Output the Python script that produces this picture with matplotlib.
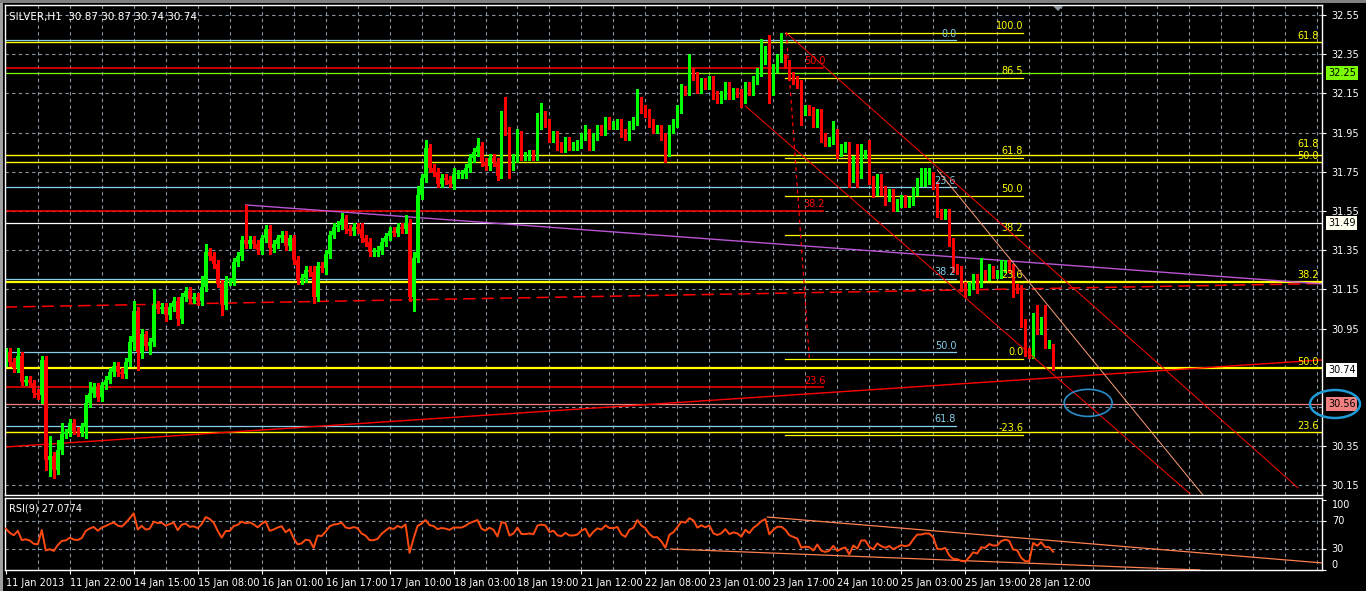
import numpy as np
import matplotlib
matplotlib.use("Agg")
import matplotlib.pyplot as plt
from matplotlib.patches import Ellipse, Polygon, Rectangle

# ---- price data (SILVER H1), one bar per hour ----
first_open = 30.78
closes = [
    30.83, 30.78, 30.75, 30.81, 30.68, 30.69, 30.67, 30.62, 30.61, 30.79,
    30.28, 30.30, 30.23, 30.33, 30.41, 30.42, 30.47, 30.43, 30.42, 30.45,
    30.57, 30.62, 30.65, 30.60, 30.66, 30.69, 30.73, 30.76, 30.73, 30.72,
    30.78, 30.88, 31.04, 30.83, 30.92, 30.86, 30.88, 31.07, 31.05, 31.06,
    31.02, 31.06, 31.09, 31.00, 31.11, 31.14, 31.10, 31.11, 31.09, 31.16,
    31.34, 31.32, 31.28, 31.18, 31.07, 31.19, 31.19, 31.29, 31.32, 31.40,
    31.38, 31.40, 31.38, 31.35, 31.41, 31.46, 31.36, 31.38, 31.41, 31.43,
    31.37, 31.41, 31.30, 31.20, 31.21, 31.25, 31.24, 31.11, 31.27, 31.26,
    31.33, 31.43, 31.47, 31.48, 31.51, 31.46, 31.45, 31.47, 31.46, 31.41,
    31.39, 31.34, 31.34, 31.35, 31.39, 31.42, 31.45, 31.44, 31.47, 31.46,
    31.49, 31.11, 31.31, 31.63, 31.72, 31.87, 31.77, 31.75, 31.69, 31.72,
    31.71, 31.69, 31.74, 31.74, 31.74, 31.77, 31.82, 31.85, 31.88, 31.80,
    31.78, 31.82, 31.80, 31.73, 31.97, 31.96, 31.78, 31.82, 31.94, 31.83,
    31.83, 31.84, 31.83, 31.99, 32.01, 32.00, 31.92, 31.94, 31.88, 31.87,
    31.91, 31.88, 31.88, 31.89, 31.93, 31.95, 31.88, 31.93, 31.97, 31.96,
    32.01, 31.99, 31.99, 32.00, 31.95, 31.93, 31.99, 32.01, 32.11, 32.07,
    32.05, 32.00, 31.97, 31.97, 31.93, 31.85, 31.97, 32.00, 32.07, 32.17,
    32.16, 32.26, 32.24, 32.17, 32.21, 32.19, 32.22, 32.14, 32.12, 32.14,
    32.19, 32.14, 32.16, 32.15, 32.12, 32.19, 32.16, 32.22, 32.26, 32.32,
    32.36, 32.21, 32.28, 32.33, 32.33, 32.30, 32.24, 32.22, 32.20, 32.06,
    32.07, 32.06, 32.00, 32.05, 31.93, 31.90, 31.91, 31.95, 31.85, 31.87,
    31.88, 31.72, 31.81, 31.74, 31.84, 31.84, 31.71, 31.65, 31.72, 31.66,
    31.62, 31.64, 31.57, 31.59, 31.61, 31.59, 31.60, 31.65, 31.70, 31.70,
    31.71, 31.71, 31.68, 31.54, 31.53, 31.54, 31.39, 31.26, 31.25, 31.17,
    31.14, 31.17, 31.21, 31.18, 31.23, 31.22, 31.25, 31.23, 31.23, 31.26,
    31.27, 31.26, 31.16, 31.15, 30.98, 30.83, 30.82, 31.01, 30.94, 30.99,
    30.87, 30.87, 30.74,
]
# wick lengths above / below the candle body
up_wick = [
    0.02, 0.02, 0.02, 0.04, 0.02, 0.02, 0.02, 0.02, 0.02, 0.02,
    0.02, 0.10, 0.02, 0.05, 0.06, 0.02, 0.02, 0.02, 0.02, 0.02,
    0.04, 0.06, 0.02, 0.02, 0.02, 0.02, 0.02, 0.02, 0.02, 0.02,
    0.02, 0.03, 0.05, 0.02, 0.03, 0.02, 0.02, 0.08, 0.02, 0.02,
    0.02, 0.02, 0.02, 0.02, 0.02, 0.02, 0.02, 0.02, 0.02, 0.06,
    0.04, 0.02, 0.02, 0.02, 0.02, 0.03, 0.02, 0.02, 0.02, 0.02,
    0.18, 0.02, 0.02, 0.02, 0.02, 0.02, 0.02, 0.02, 0.02, 0.02,
    0.02, 0.02, 0.02, 0.02, 0.02, 0.02, 0.02, 0.03, 0.02, 0.02,
    0.02, 0.02, 0.02, 0.02, 0.03, 0.02, 0.02, 0.02, 0.02, 0.03,
    0.02, 0.02, 0.02, 0.02, 0.02, 0.02, 0.02, 0.02, 0.02, 0.02,
    0.04, 0.02, 0.03, 0.05, 0.02, 0.04, 0.02, 0.02, 0.02, 0.02,
    0.02, 0.02, 0.03, 0.02, 0.02, 0.02, 0.02, 0.02, 0.04, 0.02,
    0.02, 0.02, 0.02, 0.02, 0.09, 0.16, 0.02, 0.02, 0.03, 0.02,
    0.02, 0.02, 0.02, 0.06, 0.09, 0.05, 0.02, 0.02, 0.02, 0.02,
    0.02, 0.02, 0.02, 0.02, 0.02, 0.04, 0.02, 0.02, 0.02, 0.02,
    0.02, 0.02, 0.02, 0.02, 0.02, 0.02, 0.02, 0.02, 0.06, 0.02,
    0.02, 0.02, 0.02, 0.02, 0.02, 0.02, 0.02, 0.02, 0.02, 0.03,
    0.02, 0.09, 0.02, 0.02, 0.02, 0.02, 0.02, 0.02, 0.02, 0.02,
    0.02, 0.02, 0.02, 0.02, 0.02, 0.02, 0.02, 0.02, 0.02, 0.11,
    0.03, 0.09, 0.02, 0.02, 0.13, 0.02, 0.02, 0.02, 0.02, 0.02,
    0.02, 0.02, 0.02, 0.02, 0.02, 0.02, 0.02, 0.06, 0.02, 0.02,
    0.02, 0.02, 0.02, 0.08, 0.05, 0.02, 0.07, 0.02, 0.02, 0.02,
    0.02, 0.02, 0.02, 0.02, 0.02, 0.02, 0.02, 0.02, 0.02, 0.07,
    0.06, 0.06, 0.04, 0.02, 0.02, 0.02, 0.02, 0.02, 0.02, 0.02,
    0.02, 0.02, 0.02, 0.02, 0.08, 0.02, 0.03, 0.02, 0.02, 0.04,
    0.03, 0.03, 0.02, 0.02, 0.02, 0.02, 0.02, 0.02, 0.06, 0.02,
    0.08, 0.02, 0.00,
]
low_wick = [
    0.02, 0.02, 0.02, 0.02, 0.02, 0.02, 0.02, 0.02, 0.02, 0.04,
    0.05, 0.08, 0.04, 0.02, 0.02, 0.02, 0.02, 0.02, 0.02, 0.02,
    0.06, 0.02, 0.02, 0.02, 0.02, 0.02, 0.02, 0.02, 0.02, 0.02,
    0.02, 0.02, 0.04, 0.09, 0.03, 0.02, 0.04, 0.02, 0.02, 0.02,
    0.03, 0.02, 0.02, 0.03, 0.02, 0.02, 0.02, 0.02, 0.02, 0.02,
    0.02, 0.02, 0.02, 0.02, 0.05, 0.02, 0.02, 0.02, 0.02, 0.02,
    0.02, 0.02, 0.02, 0.02, 0.02, 0.02, 0.03, 0.02, 0.02, 0.02,
    0.02, 0.02, 0.02, 0.02, 0.02, 0.02, 0.02, 0.03, 0.02, 0.02,
    0.03, 0.02, 0.02, 0.02, 0.02, 0.02, 0.02, 0.02, 0.02, 0.02,
    0.02, 0.02, 0.02, 0.02, 0.02, 0.02, 0.02, 0.02, 0.02, 0.02,
    0.02, 0.02, 0.07, 0.02, 0.02, 0.02, 0.02, 0.02, 0.02, 0.02,
    0.02, 0.02, 0.03, 0.02, 0.02, 0.02, 0.02, 0.02, 0.02, 0.02,
    0.02, 0.02, 0.02, 0.02, 0.01, 0.02, 0.06, 0.02, 0.02, 0.02,
    0.02, 0.02, 0.02, 0.02, 0.02, 0.02, 0.02, 0.02, 0.02, 0.02,
    0.02, 0.02, 0.02, 0.02, 0.02, 0.02, 0.02, 0.02, 0.02, 0.02,
    0.02, 0.02, 0.02, 0.02, 0.02, 0.02, 0.02, 0.02, 0.02, 0.02,
    0.02, 0.02, 0.02, 0.02, 0.02, 0.05, 0.02, 0.02, 0.02, 0.02,
    0.02, 0.02, 0.02, 0.02, 0.02, 0.02, 0.02, 0.02, 0.02, 0.02,
    0.02, 0.02, 0.02, 0.02, 0.04, 0.02, 0.02, 0.02, 0.02, 0.02,
    0.02, 0.11, 0.07, 0.02, 0.02, 0.02, 0.02, 0.02, 0.02, 0.07,
    0.02, 0.02, 0.02, 0.02, 0.03, 0.02, 0.02, 0.02, 0.03, 0.02,
    0.02, 0.05, 0.02, 0.07, 0.02, 0.02, 0.02, 0.03, 0.02, 0.03,
    0.04, 0.02, 0.02, 0.02, 0.02, 0.02, 0.02, 0.02, 0.02, 0.02,
    0.02, 0.02, 0.02, 0.02, 0.02, 0.02, 0.02, 0.02, 0.02, 0.03,
    0.03, 0.02, 0.02, 0.05, 0.02, 0.02, 0.02, 0.02, 0.02, 0.02,
    0.02, 0.02, 0.05, 0.02, 0.02, 0.02, 0.02, 0.02, 0.02, 0.02,
    0.02, 0.02, 0.00,
]
# average hourly gain / loss before the first visible bar (RSI warm-up)
rsi_seed_gain = 0.03
rsi_seed_loss = 0.025

date_labels = ["11 Jan 2013", "11 Jan 22:00", "14 Jan 15:00", "15 Jan 08:00",
               "16 Jan 01:00", "16 Jan 17:00", "17 Jan 10:00", "18 Jan 03:00",
               "18 Jan 19:00", "21 Jan 12:00", "22 Jan 08:00", "23 Jan 01:00",
               "23 Jan 17:00", "24 Jan 10:00", "25 Jan 03:00", "25 Jan 19:00",
               "28 Jan 12:00"]
price_ticks = [30.15, 30.35, 30.95, 31.15, 31.35, 31.55, 31.75, 31.95, 32.15, 32.35, 32.55]
grid_prices = [30.15, 30.35, 30.55, 30.75, 30.95, 31.15, 31.35, 31.55, 31.75, 31.95,
               32.15, 32.35, 32.55]

# ---- drawn objects (bar index, price) ----
blue_fib_labels = ["0.0", "23.6", "38.2", "50.0", "61.8"]
blue_fib_prices = [32.42, 31.67, 31.205, 30.83, 30.455]
red_fib_labels = ["50.0", "38.2", "23.6"]
red_fib_prices = [32.28, 31.55, 30.65]
short_fib_labels = ["100.0", "86.5", "61.8", "50.0", "38.2", "23.6", "0.0", "-23.6"]
short_fib_prices = [32.459, 32.229, 31.821, 31.627, 31.428, 31.188, 30.795, 30.408]
wide_fib_labels = ["61.8", "61.8", "50.0", "38.2", "50.0", "23.6"]
wide_fib_prices = [32.41, 31.836, 31.80, 31.19, 30.749, 30.423]
wide_fib_widths = [1.0, 1.0, 1.0, 1.6, 1.6, 1.0]

channel_upper = ([195.25, 323.25], [32.459, 30.137])
channel_lower = ([185.0, 296.25], [32.086, 30.107])
orange_line = ([233.0, 299.5], [31.76, 30.10])
red_steep = ([195.25, 201.0], [32.46, 30.80])
red_dashed = ([-0.2, 329.25], [31.06, 31.18])
red_rising = ([-0.2, 329.25], [30.346, 30.79])
purple_line = ([60.0, 329.25], [31.581, 31.178])
rsi_upper = ([190.5, 329.5], [75.7, 10.0])
rsi_lower = ([166.25, 298.75], [30.0, 0.0])

# ---- derived series ----
n = len(closes)
x = np.arange(n)
c = np.array(closes)
o = np.array([first_open] + closes[:-1])
hi = np.maximum(o, c) + np.array(up_wick)
lo = np.minimum(o, c) - np.array(low_wick)

# RSI(9), Wilder smoothing
delta = np.diff(c, prepend=first_open)
gain = np.clip(delta, 0, None)
loss = np.clip(-delta, 0, None)
rsi = np.zeros(n)
g, l = rsi_seed_gain, rsi_seed_loss
for k in range(n):
    g += (gain[k] - g) / 9
    l += (loss[k] - l) / 9
    rsi[k] = 100 * g / (g + l)

# ---- figure ----
W, H = 1366, 591
fig = plt.figure(figsize=(W / 100, H / 100), dpi=100, facecolor="black")


def box(left, top, right, bottom):
    return [left / W, 1 - bottom / H, (right - left) / W, (bottom - top) / H]


ax = fig.add_axes(box(5, 5, 1322, 495), facecolor="black")
ax2 = fig.add_axes(box(5, 498, 1322, 570), facecolor="black", sharex=ax)

XMIN, XMAX = -0.2, 329.25
GRID = "#8a94a3"
ax.set_xlim(XMIN, XMAX)
ax.set_ylim(30.101, 32.601)
ax2.set_ylim(0, 102.9)

for a in (ax, ax2):
    for s in a.spines.values():
        s.set_color("white")
        s.set_linewidth(1)
    for k in range(8, 330, 8):
        a.axvline(k, color=GRID, lw=0.8, ls=(0, (3, 3)), zorder=0)

for p in grid_prices:
    ax.axhline(p, color=GRID, lw=0.8, ls=(0, (3, 3)), zorder=0)

# horizontal levels and fibonacci objects
ax.axhline(32.255, color="#7CFC00", lw=0.9, zorder=1)
ax.axhline(31.489, color="white", lw=0.9, zorder=1)
ax.axhline(30.566, color="#F08080", lw=0.9, zorder=1)

for i, (lab, p, w) in enumerate(zip(wide_fib_labels, wide_fib_prices, wide_fib_widths)):
    ax.axhline(p, color="yellow", lw=w, zorder=1)
    off = 0.03 if i == 1 else 0.006  # the two close levels would collide otherwise
    ax.text(328.5, p + off, lab, color="yellow", fontsize=7, ha="right", va="bottom")

for lab, p in zip(blue_fib_labels, blue_fib_prices):
    ax.plot([XMIN, 237.75], [p, p], color="#87CEEB", lw=0.9, zorder=1)
    ax.text(237.75, p + 0.008, lab, color="#87CEEB", fontsize=7, ha="right", va="bottom")

for lab, p in zip(red_fib_labels, red_fib_prices):
    ax.plot([XMIN, 204.5], [p, p], color="red", lw=1.1, zorder=1)
    ax.text(205.0, p + 0.008, lab, color="red", fontsize=7, ha="right", va="bottom")

for lab, p in zip(short_fib_labels, short_fib_prices):
    ax.plot([195.0, 254.5], [p, p], color="yellow", lw=0.9, zorder=1)
    ax.text(254.5, p + 0.008, lab, color="yellow", fontsize=7, ha="right", va="bottom")

ax.plot(*red_dashed, color="red", lw=1.1, ls=(0, (8, 4)), zorder=1)
ax.plot(*red_rising, color="red", lw=1.0, zorder=1)
ax.plot(*purple_line, color="#BA55D3", lw=1.0, zorder=1)
ax.plot(*red_steep, color="red", lw=0.9, ls=(0, (3, 3)), zorder=1)
ax.plot(*channel_upper, color="red", lw=0.7, zorder=3)
ax.plot(*channel_lower, color="red", lw=0.7, zorder=3)
ax.plot(*orange_line, color="#FFA07A", lw=0.7, zorder=3)

# candles
colors = np.where(c >= o, "#00FF00", "#FF0000")
ax.vlines(x, lo, hi, colors=colors, lw=1.0, zorder=2, antialiased=False)
ax.bar(x, np.maximum(np.abs(c - o), 0.004), bottom=np.minimum(o, c), width=0.68,
       color=colors, linewidth=0, zorder=2, antialiased=False)

ax.add_patch(Ellipse((270.75, 30.571), 12, 0.138, fill=False, ec="#2a8cc8", lw=1.2, zorder=4))

# price axis
ax.yaxis.tick_right()
ax.set_yticks(price_ticks)
ax.set_yticklabels([f"{p:.2f}" for p in price_ticks])
ax.tick_params(axis="y", colors="white", labelsize=7, length=3, pad=4)
ax.tick_params(axis="x", bottom=False, labelbottom=False)

for p, txt, fc in [(32.255, "32.25", "#7CFC00"), (31.489, "31.49", "#FFFFF0"),
                   (30.74, "30.74", "white"), (30.566, "30.56", "#F08080")]:
    ax.text(1.0045, p, txt, transform=ax.get_yaxis_transform(), fontsize=7, color="black",
            ha="left", va="center", clip_on=False,
            bbox=dict(boxstyle="square,pad=0.2", fc=fc, ec="none"))

ax.text(0.003, 0.985, "SILVER,H1  30.87 30.87 30.74 30.74", transform=ax.transAxes,
        color="white", fontsize=7.5, ha="left", va="top")

# RSI panel
ax2.axhline(70, color=GRID, lw=0.8, ls=(0, (3, 3)), zorder=0)
ax2.axhline(30, color=GRID, lw=0.8, ls=(0, (3, 3)), zorder=0)
ax2.plot(x, rsi, color="#FF4A10", lw=1.4, zorder=3)
ax2.plot(*rsi_upper, color="#FF7F50", lw=0.9, zorder=2)
ax2.plot(*rsi_lower, color="#FF7F50", lw=0.9, zorder=2)
ax2.text(0.003, 0.93, "RSI(9) 27.0774", transform=ax2.transAxes, color="white",
         fontsize=7, ha="left", va="top")
ax2.yaxis.tick_right()
ax2.set_yticks([0, 30, 70, 100])
ax2.set_yticklabels(["0", "30", "70", "100"])
ax2.tick_params(axis="y", colors="white", labelsize=7, length=3, pad=4)
for lbl, va in zip(ax2.get_yticklabels(), ["bottom", "center", "center", "top"]):
    lbl.set_va(va)

ax2.set_xticks(np.arange(0, 16 * len(date_labels), 16))
ax2.set_xticklabels(date_labels, ha="left")
ax2.tick_params(axis="x", colors="white", labelsize=7, length=3, pad=3)

# window furniture
fig.patches.append(Rectangle((0, 0), 3 / W, 1, transform=fig.transFigure, fc="#a0a0a0", ec="none"))
fig.patches.append(Rectangle((0, 1 - 3 / H), 1, 3 / H, transform=fig.transFigure, fc="#808080", ec="none"))
fig.patches.append(Polygon([[1053 / W, 1 - 6 / H], [1063 / W, 1 - 6 / H], [1058 / W, 1 - 11 / H]],
                           closed=True, transform=fig.transFigure, fc="#9098a0", ec="none"))
fig.patches.append(Ellipse((1335 / W, 1 - 404 / H), 50 / W, 28 / H, transform=fig.transFigure,
                           fill=False, ec="#1e9bd7", lw=1.8))

fig.savefig("out.png", dpi=100, facecolor="black")
